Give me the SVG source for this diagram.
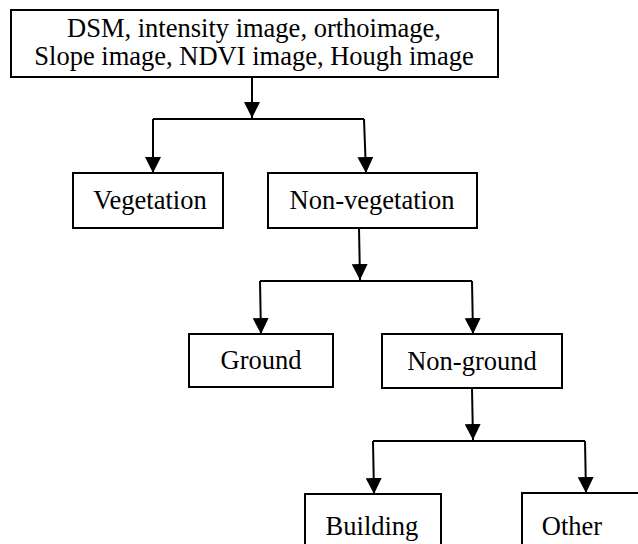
<svg xmlns="http://www.w3.org/2000/svg" width="638" height="544" viewBox="0 0 638 544">
<style>
.box{fill:#fff;stroke:#000;stroke-width:2}
.lbl{font-family:"Liberation Serif","Times New Roman",serif;font-size:26.5px;fill:#000;text-anchor:middle}
.con{fill:none;stroke:#000;stroke-width:2}
</style>
<defs>
<marker id="arr" markerUnits="userSpaceOnUse" markerWidth="16" markerHeight="16" viewBox="0 0 16 16" refX="16" refY="8" orient="auto">
<path d="M0,0 L16,8 L0,16 Z" fill="#000"/>
</marker>
</defs>
<rect width="638" height="544" fill="#fff"/>
<g id="connectors">
<path class="con" d="M252,77 L252,118" marker-end="url(#arr)"/>
<path class="con" d="M153,119 L364,119"/>
<path class="con" d="M153,119 L153,173" marker-end="url(#arr)"/>
<path class="con" d="M364,119 L366,173" marker-end="url(#arr)"/>
<path class="con" d="M359,228 L360,280" marker-end="url(#arr)"/>
<path class="con" d="M260,281 L472,281"/>
<path class="con" d="M260,281 L261,334" marker-end="url(#arr)"/>
<path class="con" d="M472,281 L473,334" marker-end="url(#arr)"/>
<path class="con" d="M472,388 L473,440" marker-end="url(#arr)"/>
<path class="con" d="M373,441 L585,441"/>
<path class="con" d="M373,441 L374,494" marker-end="url(#arr)"/>
<path class="con" d="M585,441 L586,493" marker-end="url(#arr)"/>
</g>
<g id="n-input">
<rect class="box" x="11" y="10" width="487" height="67"/>
<text class="lbl" x="254" y="37">DSM, intensity image, orthoimage,</text>
<text class="lbl" x="254" y="65">Slope image, NDVI image, Hough image</text>
</g>
<g id="n-vegetation">
<rect class="box" x="73" y="173" width="150" height="55"/>
<text class="lbl" x="150" y="209">Vegetation</text>
</g>
<g id="n-nonvegetation">
<rect class="box" x="268" y="173" width="209" height="55"/>
<text class="lbl" x="372" y="209">Non-vegetation</text>
</g>
<g id="n-ground">
<rect class="box" x="189" y="334" width="144" height="53"/>
<text class="lbl" x="261" y="369">Ground</text>
</g>
<g id="n-nonground">
<rect class="box" x="382" y="334" width="180" height="54"/>
<text class="lbl" x="472" y="370">Non-ground</text>
</g>
<g id="n-building">
<rect class="box" x="305" y="494" width="136" height="70"/>
<text class="lbl" x="372" y="535">Building</text>
</g>
<g id="n-other">
<rect class="box" x="522" y="493" width="140" height="70"/>
<text class="lbl" x="572" y="535">Other</text>
</g>
</svg>
